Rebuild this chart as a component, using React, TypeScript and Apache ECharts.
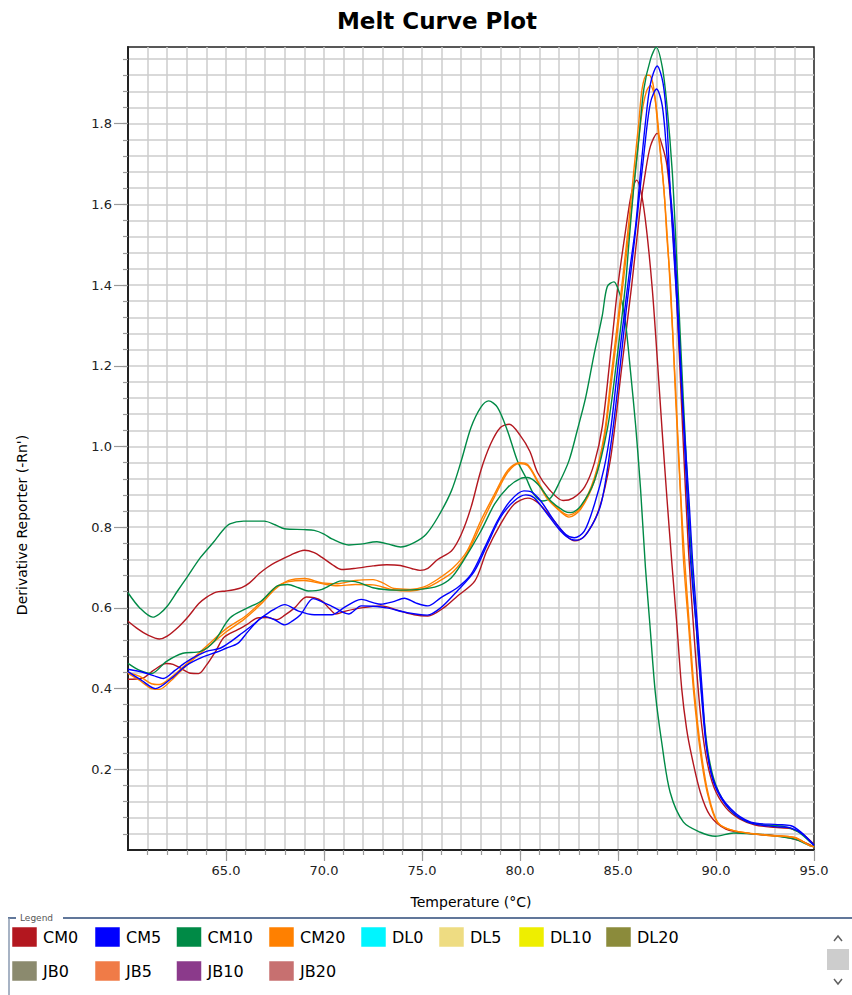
import React, { useEffect, useRef } from 'react';
import * as echarts from 'echarts';

// ---- Data (temperature °C, derivative reporter) ----
const CM0_a: [number, number][] = [
  [60.0, 0.567], [60.5, 0.548], [61.0, 0.533], [61.6, 0.523], [62.0, 0.53], [62.6, 0.554], [63.1, 0.58], [63.6, 0.61],
  [64.0, 0.626], [64.5, 0.639], [65.0, 0.642], [65.4, 0.645], [65.8, 0.65], [66.2, 0.662], [66.7, 0.685], [67.1, 0.7],
  [67.5, 0.712], [68.3, 0.731], [69.0, 0.743], [69.5, 0.737], [69.9, 0.725], [70.4, 0.708], [70.9, 0.695], [71.6, 0.698],
  [72.5, 0.704], [73.2, 0.707], [73.9, 0.705], [74.5, 0.697], [74.9, 0.693], [75.3, 0.698], [75.8, 0.72], [76.5, 0.741],
  [77.0, 0.782], [77.5, 0.849], [78.0, 0.94], [78.5, 1.006], [79.0, 1.047], [79.45, 1.055], [80.0, 1.028], [80.5, 0.988],
  [80.9, 0.935], [81.5, 0.893], [82.2, 0.866], [82.7, 0.872], [83.3, 0.9], [83.8, 0.96], [84.2, 1.05], [84.6, 1.22],
  [85.0, 1.4], [85.4, 1.54], [85.7, 1.63], [85.95, 1.66], [86.2, 1.625], [86.45, 1.54], [86.75, 1.39], [87.0, 1.22],
  [87.25, 1.04], [87.5, 0.87], [87.75, 0.71], [88.0, 0.56], [88.25, 0.4], [88.5, 0.3], [88.75, 0.235], [89.2, 0.143],
  [89.7, 0.085], [90.5, 0.052], [91.8, 0.04], [93.3, 0.034], [94.3, 0.023], [95.0, 0.008],
];
const CM0_b: [number, number][] = [
  [60.0, 0.423], [60.7, 0.425], [61.3, 0.445], [61.95, 0.462], [62.3, 0.46], [62.7, 0.45], [63.2, 0.438], [63.6, 0.437],
  [64.0, 0.458], [64.5, 0.495], [64.9, 0.527], [65.6, 0.546], [66.1, 0.56], [66.6, 0.575], [67.1, 0.576], [67.6, 0.571],
  [68.0, 0.582], [68.5, 0.6], [69.1, 0.627], [69.5, 0.625], [69.9, 0.617], [70.3, 0.597], [70.6, 0.585], [71.1, 0.592],
  [71.9, 0.6], [72.9, 0.605], [73.9, 0.592], [74.6, 0.583], [75.3, 0.58], [76.1, 0.6], [76.8, 0.629], [77.7, 0.667],
  [78.3, 0.741], [79.0, 0.807], [79.7, 0.857], [80.4, 0.872], [80.9, 0.861], [81.6, 0.824], [82.3, 0.782], [82.8, 0.766],
  [83.3, 0.778], [84.0, 0.84], [84.6, 0.964], [85.2, 1.2], [85.7, 1.4], [86.15, 1.596], [86.4, 1.68], [86.66, 1.745],
  [87.0, 1.776], [87.26, 1.745], [87.5, 1.696], [87.77, 1.555], [88.0, 1.36], [88.3, 1.04], [88.6, 0.74], [88.9, 0.52],
  [89.2, 0.34], [89.5, 0.23], [89.9, 0.155], [90.5, 0.105], [91.2, 0.077], [92.0, 0.062], [93.0, 0.056], [93.8, 0.053],
  [94.4, 0.04], [95.0, 0.014],
];
const CM5_a: [number, number][] = [
  [60.0, 0.448], [60.8, 0.44], [61.3, 0.432], [61.8, 0.425], [62.4, 0.445], [63.0, 0.467], [64.0, 0.492], [64.7, 0.5],
  [65.2, 0.515], [65.7, 0.533], [66.3, 0.555], [66.8, 0.575], [67.4, 0.595], [68.0, 0.608], [68.7, 0.592], [69.5, 0.583],
  [70.4, 0.583], [71.0, 0.6], [71.6, 0.617], [71.9, 0.621], [72.5, 0.613], [72.9, 0.609], [73.5, 0.615], [74.1, 0.624],
  [74.7, 0.612], [75.3, 0.605], [75.95, 0.625], [76.8, 0.65], [77.5, 0.683], [78.2, 0.75], [78.85, 0.816], [79.5, 0.865],
  [80.2, 0.89], [80.55, 0.888], [81.06, 0.865], [81.74, 0.816], [82.34, 0.782], [82.77, 0.774], [83.28, 0.79], [83.8, 0.857],
  [84.3, 0.948], [84.64, 1.047], [85.0, 1.2], [85.3, 1.32], [85.55, 1.42], [85.9, 1.547], [86.15, 1.68], [86.4, 1.803],
  [86.66, 1.9], [87.0, 1.943], [87.3, 1.9], [87.5, 1.8], [87.68, 1.615], [88.0, 1.36], [88.28, 1.119], [88.62, 0.87],
  [88.8, 0.72], [89.05, 0.557], [89.3, 0.392], [89.55, 0.243], [89.97, 0.16], [90.75, 0.102], [91.78, 0.069], [93.15, 0.063],
  [93.83, 0.06], [94.35, 0.044], [94.78, 0.023], [95.0, 0.012],
];
const CM5_b: [number, number][] = [
  [60.0, 0.442], [60.7, 0.42], [61.4, 0.4], [62.2, 0.425], [63.0, 0.458], [63.8, 0.478], [64.5, 0.49], [65.0, 0.5],
  [65.6, 0.512], [66.1, 0.54], [66.6, 0.567], [66.95, 0.579], [67.5, 0.57], [68.0, 0.558], [68.4, 0.568], [68.8, 0.583],
  [69.45, 0.623], [69.9, 0.615], [70.4, 0.604], [71.26, 0.585], [71.9, 0.605], [72.5, 0.604], [73.2, 0.6], [74.25, 0.588],
  [75.27, 0.582], [75.95, 0.6], [76.8, 0.642], [77.66, 0.69], [78.34, 0.758], [79.0, 0.824], [79.7, 0.865], [80.3, 0.88],
  [80.72, 0.873], [81.4, 0.832], [82.08, 0.79], [82.6, 0.77], [82.94, 0.768], [83.45, 0.787], [84.13, 0.857], [84.64, 1.006],
  [85.0, 1.15], [85.4, 1.33], [85.7, 1.45], [86.0, 1.58], [86.4, 1.76], [86.66, 1.853], [86.97, 1.886], [87.26, 1.844],
  [87.5, 1.72], [87.85, 1.53], [88.1, 1.3], [88.4, 1.0], [88.7, 0.72], [89.0, 0.55], [89.25, 0.39], [89.5, 0.26],
  [89.9, 0.165], [90.7, 0.1], [91.7, 0.068], [93.0, 0.058], [93.8, 0.055], [94.4, 0.04], [95.0, 0.012],
];
const CM10_a: [number, number][] = [
  [60.0, 0.6375], [60.6, 0.6], [61.26, 0.577], [61.6, 0.585], [62.0, 0.604], [62.5, 0.64], [63.0, 0.675], [63.7, 0.725],
  [64.36, 0.7625], [64.8, 0.79], [65.2, 0.808], [65.9, 0.815], [66.95, 0.815], [67.5, 0.806], [67.98, 0.796], [69.0, 0.794],
  [69.5, 0.792], [70.0, 0.783], [70.4, 0.771], [71.26, 0.756], [71.86, 0.758], [72.7, 0.764], [73.3, 0.758], [73.9, 0.751],
  [74.6, 0.762], [75.2, 0.782], [75.8, 0.824], [76.5, 0.89], [77.0, 0.964], [77.5, 1.047], [78.0, 1.097], [78.4, 1.113],
  [78.85, 1.097], [79.36, 1.039], [79.87, 0.964], [80.3, 0.923], [80.7, 0.882], [81.15, 0.865], [81.57, 0.873], [82.0, 0.91],
  [82.5, 0.965], [82.9, 1.036], [83.34, 1.119], [83.77, 1.226], [84.2, 1.325], [84.45, 1.396], [84.79, 1.408], [84.96, 1.396],
  [85.2, 1.359], [85.4, 1.3], [85.64, 1.185], [85.9, 1.052], [86.15, 0.895], [86.4, 0.7], [86.63, 0.557], [86.9, 0.392],
  [87.23, 0.267], [87.66, 0.143], [88.34, 0.069], [89.2, 0.044], [89.97, 0.034], [90.9, 0.042], [92.63, 0.037], [94.0, 0.027],
  [94.78, 0.011], [95.0, 0.008],
];
const CM10_b: [number, number][] = [
  [60.0, 0.4625], [60.6, 0.445], [61.2, 0.4375], [61.95, 0.467], [62.8, 0.4875], [63.7, 0.492], [64.4, 0.517], [65.2, 0.575],
  [66.1, 0.6], [66.8, 0.617], [67.6, 0.654], [68.15, 0.658], [68.7, 0.65], [69.2, 0.642], [69.9, 0.646], [70.9, 0.667],
  [71.6, 0.665], [72.5, 0.65], [73.2, 0.645], [73.9, 0.644], [74.9, 0.646], [75.8, 0.654], [76.5, 0.675], [77.1, 0.716],
  [78.0, 0.79], [78.7, 0.857], [79.36, 0.898], [80.04, 0.921], [80.4, 0.923], [80.9, 0.907], [81.57, 0.865], [82.26, 0.84],
  [82.6, 0.836], [83.1, 0.853], [83.8, 0.915], [84.47, 1.047], [84.9, 1.2], [85.38, 1.4], [85.55, 1.5], [85.8, 1.64],
  [86.06, 1.76], [86.32, 1.886], [86.66, 1.96], [86.95, 1.989], [87.26, 1.94], [87.5, 1.844], [87.77, 1.68], [87.94, 1.52],
  [88.2, 1.25], [88.5, 0.95], [88.75, 0.72], [89.0, 0.55], [89.3, 0.37], [89.6, 0.24], [90.0, 0.16], [90.7, 0.1],
  [91.6, 0.07], [92.5, 0.062], [93.5, 0.058], [94.2, 0.045], [94.8, 0.02], [95.0, 0.012],
];
const CM20_a: [number, number][] = [
  [60.0, 0.4375], [60.6, 0.42], [61.2, 0.4], [61.6, 0.398], [62.2, 0.42], [63.0, 0.458], [64.0, 0.5], [65.05, 0.542],
  [65.9, 0.571], [66.8, 0.61], [67.5, 0.646], [68.2, 0.668], [69.0, 0.673], [69.9, 0.662], [70.7, 0.66], [71.6, 0.668],
  [72.5, 0.67], [73.0, 0.662], [73.57, 0.648], [74.4, 0.646], [75.1, 0.652], [75.8, 0.671], [76.6, 0.7], [77.3, 0.741],
  [78.0, 0.816], [78.7, 0.882], [79.36, 0.94], [79.96, 0.96], [80.4, 0.955], [80.9, 0.915], [81.4, 0.873], [82.08, 0.84],
  [82.5, 0.83], [83.1, 0.849], [83.8, 0.923], [84.3, 1.03], [84.64, 1.17], [85.2, 1.4], [85.55, 1.555], [85.8, 1.68],
  [86.06, 1.803], [86.23, 1.886], [86.45, 1.92], [86.6, 1.92], [86.83, 1.886], [87.09, 1.76], [87.34, 1.64], [87.5, 1.515],
  [87.68, 1.4], [87.94, 1.119], [88.2, 0.87], [88.34, 0.72], [88.6, 0.557], [88.86, 0.392], [89.2, 0.243], [89.55, 0.143],
  [90.06, 0.069], [90.9, 0.048], [92.63, 0.036], [94.0, 0.031], [94.78, 0.011], [95.0, 0.008],
];
const CM20_b: [number, number][] = [
  [60.0, 0.44], [60.6, 0.43], [61.2, 0.412], [61.6, 0.41], [62.2, 0.428], [63.0, 0.462], [64.0, 0.505], [65.0, 0.548],
  [66.0, 0.58], [66.8, 0.615], [67.5, 0.65], [68.2, 0.665], [69.0, 0.668], [69.9, 0.66], [70.7, 0.655], [71.6, 0.658],
  [72.5, 0.657], [73.5, 0.645], [74.4, 0.642], [75.1, 0.648], [75.8, 0.664], [76.6, 0.69], [77.3, 0.735], [78.0, 0.805],
  [78.7, 0.875], [79.36, 0.935], [79.96, 0.958], [80.4, 0.952], [80.9, 0.912], [81.4, 0.87], [82.08, 0.838], [82.5, 0.825],
  [83.1, 0.845], [83.8, 0.915], [84.3, 1.02], [84.64, 1.15], [85.2, 1.38], [85.6, 1.55], [85.9, 1.69], [86.2, 1.82],
  [86.45, 1.88], [86.65, 1.895], [86.9, 1.86], [87.15, 1.74], [87.4, 1.6], [87.6, 1.45], [87.94, 1.14], [88.2, 0.88],
  [88.4, 0.72], [88.65, 0.55], [88.9, 0.39], [89.25, 0.24], [89.6, 0.14], [90.1, 0.068], [90.9, 0.048], [92.6, 0.037],
  [94.0, 0.031], [94.8, 0.011], [95.0, 0.008],
];

// ---- Legend entries ----
const legendNames = ['CM0', 'CM5', 'CM10', 'CM20', 'DL0', 'DL5', 'DL10', 'DL20', 'JB0', 'JB5', 'JB10', 'JB20'];
const legendColors = ['#b3171f', '#0000ff', '#008a46', '#ff8000', '#00f5ff', '#eedc82', '#eeee00', '#8b8b3b',
  '#8b8a6e', '#f07b47', '#8b3a8b', '#c77070'];

// ---- Axis ticks ----
const xTickLabels = [65, 70, 75, 80, 85, 90, 95];
const yTickLabels = [0.2, 0.4, 0.6, 0.8, 1.0, 1.2, 1.4, 1.6, 1.8];

const curves: { name: string; data: [number, number][] }[] = [
  { name: 'CM0', data: CM0_a },
  { name: 'CM0', data: CM0_b },
  { name: 'CM10', data: CM10_a },
  { name: 'CM20', data: CM20_a },
  { name: 'CM20', data: CM20_b },
  { name: 'CM10', data: CM10_b },
  { name: 'CM5', data: CM5_a },
  { name: 'CM5', data: CM5_b },
];

export default function App() {
  const ref = useRef<HTMLDivElement>(null);

  useEffect(() => {
    document.body.style.margin = '0';
    if (!ref.current) return;
    const chart = echarts.init(ref.current, null, { renderer: 'svg' });

    const xMinor: number[] = [];
    for (let v = 61; v < 95; v++) xMinor.push(v);
    const yMinor: number[] = [];
    for (let i = 1; i <= 49; i++) yMinor.push(Math.round(i * 4) / 100);

    const gridLine = { show: true, lineStyle: { color: '#cccccc', width: 1.5 } };
    const tickStyle = { color: '#9a9a9a', width: 1.2 };
    const font = 'DejaVu Sans';

    // legend graphic
    const colX = [12, 95, 176.5, 269, 361, 439, 519, 606];
    const rowY = [927, 961];
    const legendEls: any[] = [];
    legendNames.forEach((n, i) => {
      const col = i % 8;
      const row = Math.floor(i / 8);
      const x = colX[col];
      const y = rowY[row];
      legendEls.push({
        type: 'rect',
        shape: { x, y, width: 25, height: 20 },
        style: { fill: legendColors[i], stroke: 'rgba(255,255,255,0.5)', lineWidth: 1 },
      });
      legendEls.push({
        type: 'text',
        x: x + 31,
        y: y + 10,
        style: {
          text: n, fill: '#000', font: `16px "${font}"`,
          align: 'left', verticalAlign: 'middle', textAlign: 'left', textVerticalAlign: 'middle',
        },
      });
    });

    const option: any = {
      animation: false,
      backgroundColor: '#ffffff',
      title: {
        text: 'Melt Curve Plot',
        left: 432,
        top: 4,
        textAlign: 'center',
        textStyle: { fontFamily: font, fontWeight: 'bold', fontSize: 23, color: '#000' },
      },
      grid: {
        left: 128, right: 38, top: 47, bottom: 145,
        show: true, borderColor: '#222', borderWidth: 1.5, backgroundColor: '#fff',
      },
      xAxis: [
        {
          type: 'value', min: 60, max: 95, interval: 1, position: 'bottom',
          axisLine: { show: true, onZero: false, lineStyle: { color: '#222', width: 2 } },
          axisTick: { show: true, length: 5, customValues: xMinor, lineStyle: tickStyle },
          axisLabel: { show: false },
          splitLine: gridLine,
        },
        {
          type: 'value', min: 60, max: 95, interval: 5, position: 'bottom',
          axisLine: { show: false, onZero: false },
          axisTick: { show: true, length: 11, customValues: xTickLabels, lineStyle: tickStyle },
          axisLabel: {
            customValues: xTickLabels, margin: 14,
            formatter: (v: number) => v.toFixed(1), fontFamily: font, fontSize: 13, color: '#222',
          },
          splitLine: { show: false },
          name: 'Temperature (°C)', nameLocation: 'middle', nameGap: 45,
          nameTextStyle: { fontFamily: font, fontSize: 14, color: '#000' },
        },
      ],
      yAxis: [
        {
          type: 'value', min: 0, max: 1.99, interval: 0.04, position: 'left',
          axisLine: { show: true, onZero: false, lineStyle: { color: '#222', width: 2 } },
          axisTick: { show: true, length: 5, customValues: yMinor, lineStyle: tickStyle },
          axisLabel: { show: false },
          splitLine: gridLine,
        },
        {
          type: 'value', min: 0, max: 1.99, interval: 0.2, position: 'left',
          axisLine: { show: false, onZero: false },
          axisTick: { show: true, length: 14, customValues: yTickLabels, lineStyle: tickStyle },
          axisLabel: {
            customValues: yTickLabels, margin: 16,
            formatter: (v: number) => v.toFixed(1), fontFamily: font, fontSize: 13, color: '#222',
          },
          splitLine: { show: false },
        },
      ],
      series: curves.map((c) => {
        const color = legendColors[legendNames.indexOf(c.name)];
        return {
          type: 'line', name: c.name, data: c.data, xAxisIndex: 0, yAxisIndex: 0,
          symbol: 'none', showSymbol: false, smooth: 0.3, silent: true,
          lineStyle: { color, width: 1.4 }, itemStyle: { color },
        };
      }),
      graphic: [
        {
          type: 'text', x: 22, y: 525, rotation: Math.PI / 2,
          style: {
            text: "Derivative Reporter (-Rn')", fill: '#000', font: `14px "${font}"`,
            align: 'center', verticalAlign: 'middle', textAlign: 'center', textVerticalAlign: 'middle',
          },
        },
        { type: 'line', shape: { x1: 8, y1: 918, x2: 16, y2: 918 }, style: { stroke: '#2c4a78', lineWidth: 1.5 } },
        {
          type: 'text', x: 20, y: 918,
          style: {
            text: 'Legend', fill: '#555', font: `9px "${font}"`,
            align: 'left', verticalAlign: 'middle', textAlign: 'left', textVerticalAlign: 'middle',
          },
        },
        { type: 'line', shape: { x1: 63, y1: 918, x2: 852, y2: 918 }, style: { stroke: '#2c4a78', lineWidth: 1.5 } },
        { type: 'line', shape: { x1: 9, y1: 918, x2: 9, y2: 995 }, style: { stroke: '#8a9ab0', lineWidth: 1.5 } },
        { type: 'polyline', shape: { points: [[834, 941], [838, 936], [842, 941]] }, style: { stroke: '#606060', lineWidth: 1.5, fill: null } },
        { type: 'rect', shape: { x: 827, y: 949, width: 22, height: 21 }, style: { fill: '#cdcdcd' } },
        { type: 'polyline', shape: { points: [[834, 979], [838, 984], [842, 979]] }, style: { stroke: '#606060', lineWidth: 1.5, fill: null } },
        ...legendEls,
      ],
    };

    chart.setOption(option);
    return () => chart.dispose();
  }, []);

  return <div ref={ref} style={{ width: 852, height: 995 }} />;
}
